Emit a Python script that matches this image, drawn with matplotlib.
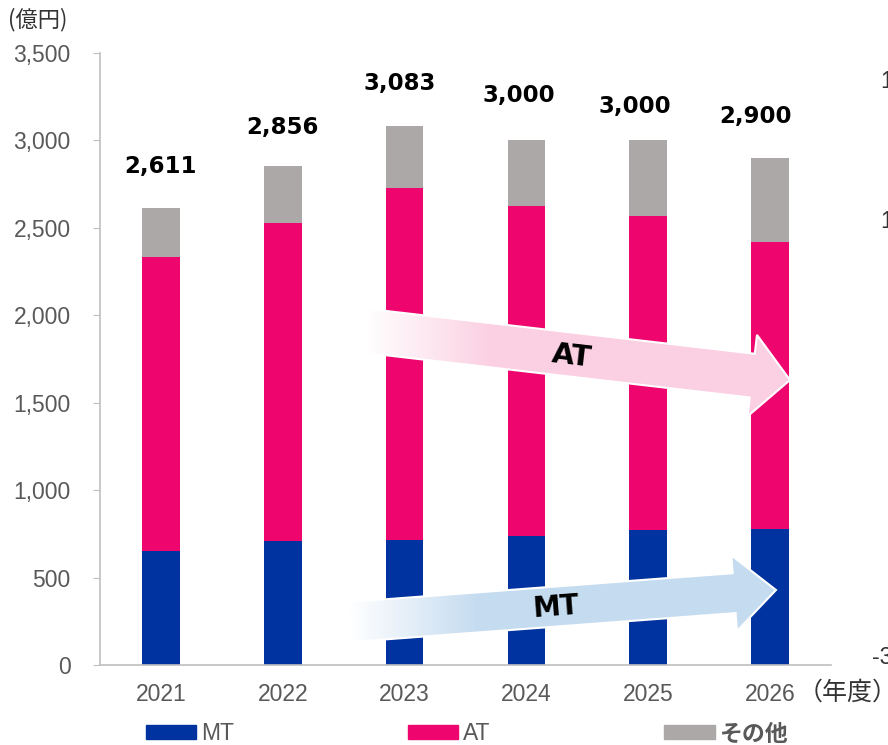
import matplotlib
matplotlib.use('Agg')
import matplotlib.pyplot as plt
import numpy as np
from matplotlib.patches import Polygon, Patch
from matplotlib.colors import LinearSegmentedColormap

# data (億円)
years = ['2021', '2022', '2023', '2024', '2025', '2026']
mt = [650, 710, 715, 740, 770, 780]
at = [1683, 1819, 2013, 1886, 1795, 1638]
other = [278, 327, 355, 374, 435, 482]
totals = [2611, 2856, 3083, 3000, 3000, 2900]

# label nudges in pixels (dx, dy above bar top)
label_shift = [(0, 42), (0, 38), (-5, 42), (-8, 45), (-13, 34), (-15, 41)]

c_mt = '#0033a0'
c_at = '#ef056e'
c_other = '#aca8a8'
gray = '#595959'
jp = ['Noto Sans CJK JP', 'DejaVu Sans']

W, H = 888, 745
fig = plt.figure(figsize=(W / 100, H / 100), dpi=100)
ax = fig.add_axes([100 / W, 1 - 665 / H, 731 / W, 612 / H])

x = np.arange(len(years))
bw = 0.31
ax.bar(x, mt, bw, color=c_mt, label='MT')
ax.bar(x, at, bw, bottom=mt, color=c_at, label='AT')
bottom2 = np.array(mt) + np.array(at)
ax.bar(x, other, bw, bottom=bottom2, color=c_other, label='その他')

for i, t in enumerate(totals):
    dx, dy = label_shift[i]
    ax.annotate(f'{t:,}', (x[i], bottom2[i] + other[i]), xytext=(dx, dy),
                textcoords='offset pixels', ha='center', va='center',
                fontsize=16.5, fontweight='bold', family='DejaVu Sans', color='black')

ax.set_xlim(-0.5, len(years) - 0.5)
ax.set_ylim(0, 3500)
ax.set_yticks(np.arange(0, 3501, 500))
ax.set_yticklabels([f'{v:,}' for v in range(0, 3501, 500)])
ax.set_xticks(x)
ax.set_xticklabels(years)
for s in ['top', 'right']:
    ax.spines[s].set_visible(False)
for s in ['left', 'bottom']:
    ax.spines[s].set_color('#bfbfbf')
    ax.spines[s].set_linewidth(1.2)
ax.tick_params(axis='y', direction='out', length=5, color='#bfbfbf', labelsize=16.5,
               labelcolor=gray, pad=16)
ax.tick_params(axis='x', length=0, labelsize=16.5, labelcolor=gray, pad=13)
for lab in ax.get_xticklabels() + ax.get_yticklabels():
    lab.set_family('Liberation Sans')

fig.text(8 / W, 1 - 20 / H, '(億円)', family=jp, fontsize=16, color='#333333', va='center')
fig.text(798 / W, 1 - 693 / H, '（年度）', family=jp, fontsize=18, color='#333333', va='center')

# cut-off labels of a secondary axis at the right edge
for txt, py in [('100', 82), ('100', 222)]:
    fig.text(880 / W, 1 - py / H, txt, family='Liberation Sans', fontsize=16.5,
             color='#333333', va='center')
fig.text(872 / W, 1 - 657 / H, '-300', family='Liberation Sans', fontsize=16.5,
         color='#333333', va='center')

# legend
handles = [Patch(color=c_mt), Patch(color=c_at), Patch(color=c_other)]
leg = fig.legend(handles, ['MT', 'AT', 'その他'], loc='center', ncol=3,
                 bbox_to_anchor=(467 / W, 1 - 734 / H), frameon=False,
                 prop={'family': ['Liberation Sans', 'Noto Sans CJK JP'], 'size': 16.5},
                 handlelength=2.2, handleheight=0.55, handletextpad=0.2, columnspacing=7.6)
for t in leg.get_texts():
    t.set_color(gray)
leg.get_texts()[2].set_family(jp)
leg.get_texts()[2].set_fontweight('bold')


# trend arrows drawn on an overlay in pixel coordinates
ov = fig.add_axes([0, 0, 1, 1], zorder=5)
ov.set_xlim(0, W)
ov.set_ylim(H, 0)
ov.axis('off')
ov.patch.set_alpha(0)


def arrow_pts(p0, p1, sw, hw, hl):
    p0 = np.array(p0, float)
    p1 = np.array(p1, float)
    u = (p1 - p0) / np.linalg.norm(p1 - p0)
    n = np.array([-u[1], u[0]])
    b = p1 - u * hl
    return np.array([p0 + n * sw / 2, b + n * sw / 2, b + n * hw / 2, p1,
                     b - n * hw / 2, b - n * sw / 2, p0 - n * sw / 2])


def grad_arrow(p0, p1, sw, hw, hl, color):
    pts = arrow_pts(p0, p1, sw, hw, hl)
    poly = Polygon(pts, closed=True, facecolor='none', edgecolor='none', zorder=3)
    ov.add_patch(poly)
    x0, x1 = pts[:, 0].min(), pts[:, 0].max()
    y0, y1 = pts[:, 1].min(), pts[:, 1].max()
    ramp = np.clip(np.linspace(0, 1, 400) / 0.3, 0, 1)
    cmap = LinearSegmentedColormap.from_list('g', ['white', color])
    im = ov.imshow(np.vstack([ramp, ramp]), cmap=cmap, vmin=0, vmax=1,
                   extent=(x0, x1, y1, y0), aspect='auto', zorder=2,
                   interpolation='bilinear')
    im.set_clip_path(poly)
    ov.add_patch(Polygon(pts, closed=True, facecolor='none', edgecolor='white', lw=1.5, zorder=4))


grad_arrow((368, 331), (790, 380), 44, 82, 38, '#fbd0e2')
grad_arrow((350, 622), (776, 590), 40, 76, 42, '#c5dcf0')
ov.set_xlim(0, W)
ov.set_ylim(H, 0)

ov.text(572, 356, 'AT', rotation=-6.6, ha='center', va='center', fontsize=21,
        fontweight='bold', family='DejaVu Sans', color='black', zorder=6)
ov.text(556, 607, 'MT', rotation=4.3, ha='center', va='center', fontsize=20,
        fontweight='bold', family='DejaVu Sans', color='black', zorder=6)

fig.savefig('out.png', dpi=100)
